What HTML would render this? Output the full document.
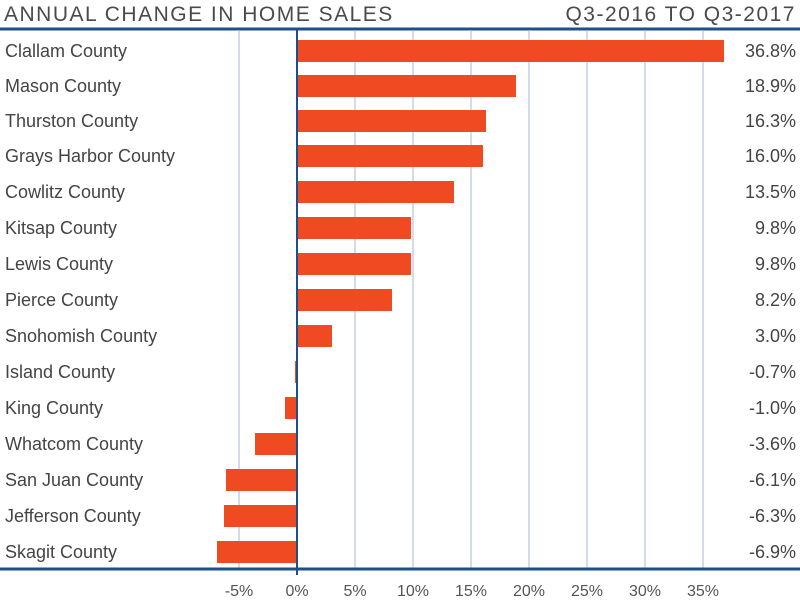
<!DOCTYPE html>
<html><head><style>
body{margin:0;background:#fff;font-family:"Liberation Sans",sans-serif;}
</style></head><body>
<svg width="800" height="609" xmlns="http://www.w3.org/2000/svg" font-family="Liberation Sans, sans-serif">
<text x="4" y="21" font-size="21" fill="#4a4a4a" letter-spacing="1.5">ANNUAL CHANGE IN HOME SALES</text>
<text x="796" y="21" font-size="21" fill="#4a4a4a" letter-spacing="1.5" text-anchor="end">Q3-2016 TO Q3-2017</text>
<line x1="0" y1="29" x2="800" y2="29" stroke="#1d4f8c" stroke-width="3"/>
<g stroke="#a3b9d8" stroke-width="1">
<line x1="239" y1="30" x2="239" y2="569"/><line x1="355" y1="30" x2="355" y2="569"/>
<line x1="413" y1="30" x2="413" y2="569"/><line x1="471" y1="30" x2="471" y2="569"/>
<line x1="529" y1="30" x2="529" y2="569"/><line x1="587" y1="30" x2="587" y2="569"/>
<line x1="645" y1="30" x2="645" y2="569"/><line x1="703" y1="30" x2="703" y2="569"/>
</g>
<g font-size="18" fill="#444">
<rect x="297" y="40" width="427" height="22" fill="#f04a23"/><text x="5" y="57">Clallam County</text><text x="796" y="57" text-anchor="end">36.8%</text>
<rect x="297" y="75" width="219" height="22" fill="#f04a23"/><text x="5" y="92">Mason County</text><text x="796" y="92" text-anchor="end">18.9%</text>
<rect x="297" y="110" width="189" height="22" fill="#f04a23"/><text x="5" y="127">Thurston County</text><text x="796" y="127" text-anchor="end">16.3%</text>
<rect x="297" y="145" width="186" height="22" fill="#f04a23"/><text x="5" y="162">Grays Harbor County</text><text x="796" y="162" text-anchor="end">16.0%</text>
<rect x="297" y="181" width="157" height="22" fill="#f04a23"/><text x="5" y="198">Cowlitz County</text><text x="796" y="198" text-anchor="end">13.5%</text>
<rect x="297" y="217" width="114" height="22" fill="#f04a23"/><text x="5" y="234">Kitsap County</text><text x="796" y="234" text-anchor="end">9.8%</text>
<rect x="297" y="253" width="114" height="22" fill="#f04a23"/><text x="5" y="270">Lewis County</text><text x="796" y="270" text-anchor="end">9.8%</text>
<rect x="297" y="289" width="95" height="22" fill="#f04a23"/><text x="5" y="306">Pierce County</text><text x="796" y="306" text-anchor="end">8.2%</text>
<rect x="297" y="325" width="35" height="22" fill="#f04a23"/><text x="5" y="342">Snohomish County</text><text x="796" y="342" text-anchor="end">3.0%</text>
<rect x="295" y="361" width="2" height="22" fill="#f04a23"/><text x="5" y="378">Island County</text><text x="796" y="378" text-anchor="end">-0.7%</text>
<rect x="285" y="397" width="12" height="22" fill="#f04a23"/><text x="5" y="414">King County</text><text x="796" y="414" text-anchor="end">-1.0%</text>
<rect x="255" y="433" width="42" height="22" fill="#f04a23"/><text x="5" y="450">Whatcom County</text><text x="796" y="450" text-anchor="end">-3.6%</text>
<rect x="226" y="469" width="71" height="22" fill="#f04a23"/><text x="5" y="486">San Juan County</text><text x="796" y="486" text-anchor="end">-6.1%</text>
<rect x="224" y="505" width="73" height="22" fill="#f04a23"/><text x="5" y="522">Jefferson County</text><text x="796" y="522" text-anchor="end">-6.3%</text>
<rect x="217" y="541" width="80" height="22" fill="#f04a23"/><text x="5" y="558">Skagit County</text><text x="796" y="558" text-anchor="end">-6.9%</text>
</g>
<line x1="297" y1="30" x2="297" y2="575" stroke="#1d4f8c" stroke-width="2"/>
<line x1="0" y1="569" x2="800" y2="569" stroke="#1d4f8c" stroke-width="3"/>
<g font-size="16" fill="#555" text-anchor="middle">
<text x="239" y="596">-5%</text><text x="297" y="596">0%</text><text x="355" y="596">5%</text>
<text x="413" y="596">10%</text><text x="471" y="596">15%</text><text x="529" y="596">20%</text>
<text x="587" y="596">25%</text><text x="645" y="596">30%</text><text x="703" y="596">35%</text>
</g>
</svg>
</body></html>
